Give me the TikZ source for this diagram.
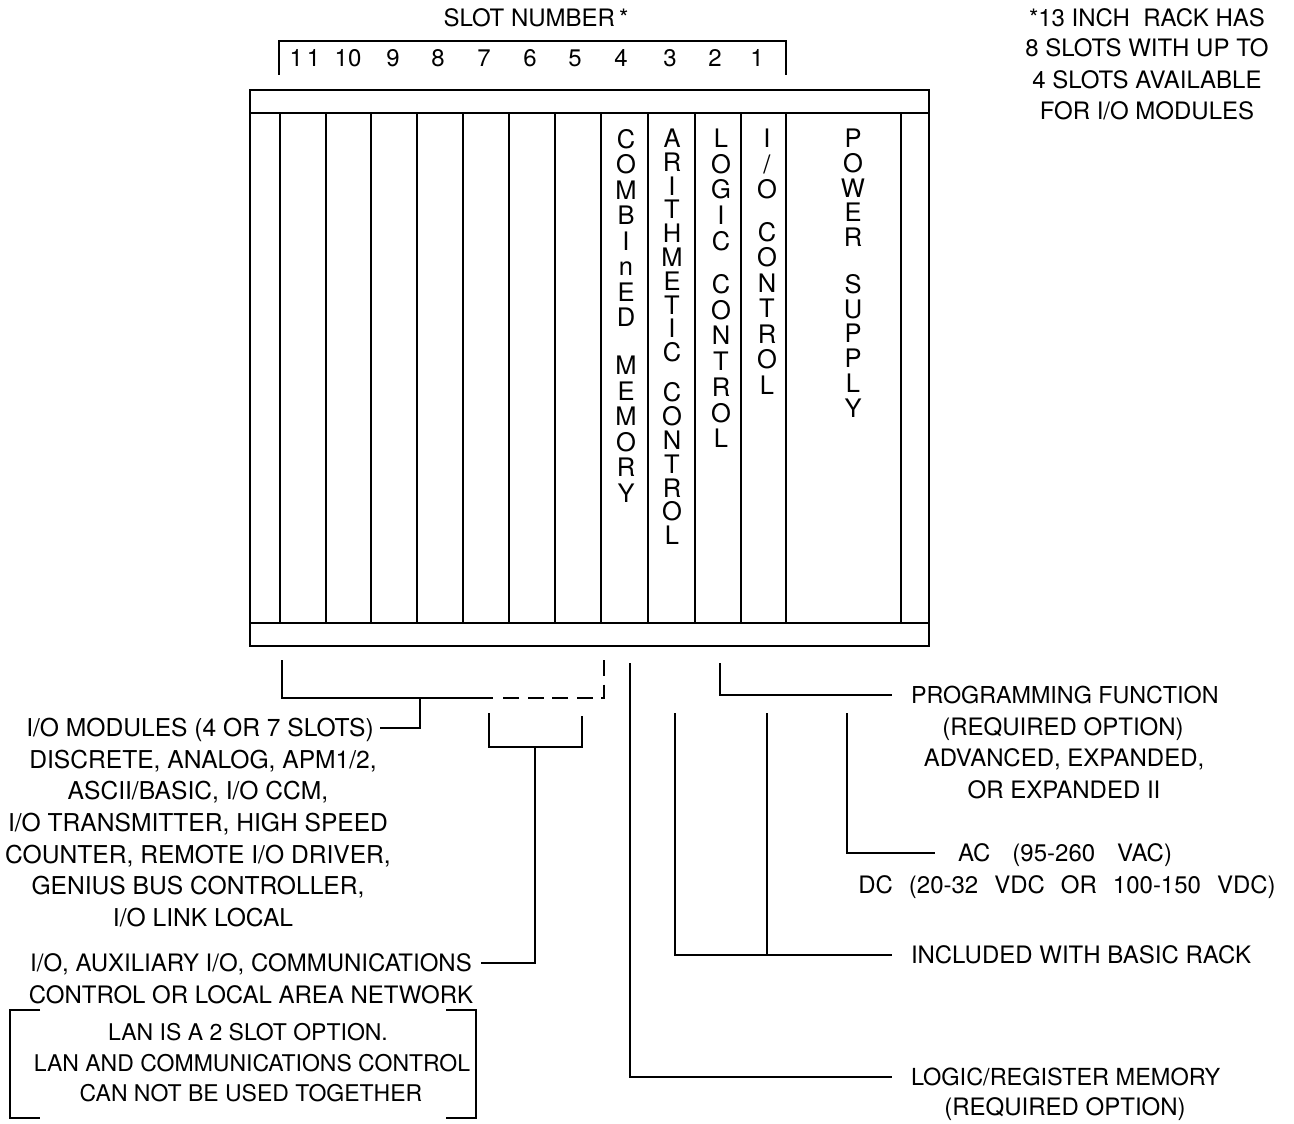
\documentclass[tikz,border=0pt]{standalone}
\usepackage{fontspec}
\setmainfont{TeX Gyre Heros}
\begin{document}
\begin{tikzpicture}[x=1pt,y=-1pt,line width=2pt,
  txt/.style={inner sep=0pt,text height=17.2pt,text depth=0pt,font=\fontsize{24}{28}\selectfont},
  txtL/.style={inner sep=0pt,text height=17.6pt,text depth=0pt,font=\fontsize{24.6}{30}\selectfont},
  txtS/.style={inner sep=0pt,text height=16.6pt,text depth=0pt,font=\fontsize{23}{28}\selectfont},
  vlet/.style={inner sep=0pt,anchor=north,align=center},
  lead/.style={line width=1.9pt},
  optdash/.style={line width=1.9pt,dash pattern=on 16pt off 8.6pt}
]
\useasboundingbox (0,0) rectangle (1294,1124);

% ---------- rack ----------
\draw (250,90) rectangle (929,646);
\draw (250,113) -- (929,113);
\draw (250,623) -- (929,623);
\foreach \x in {280,326,371,417,463,509,555,601,648,695,741,786,901}
  \draw (\x,113) -- (\x,623);

% ---------- slot numbers ----------
\node[txt] (slotnum) at (536,18) {SLOT NUMBER\,*};
\draw[lead] (279,75) -- (279,41) -- (786,41) -- (786,75);
\foreach \n/\x [count=\i] in {{1\kern4pt1}/305,10/348,9/393,8/438,7/484,6/530,5/575,4/621,3/670,2/715,1/757}
  \node[txt] (num\i) at (\x,58) {\n};

% ---------- note ----------
\node[txt] (note1) at (1147,18) {*13 INCH\ \ RACK HAS};
\node[txt] (note2) at (1147,48) {8 SLOTS WITH UP TO};
\node[txt] (note3) at (1147,80) {4 SLOTS AVAILABLE};
\node[txt] (note4) at (1147,111) {FOR I/O MODULES};

% ---------- vertical slot labels ----------
\node[vlet,font=\fontsize{25.5}{25.5}\selectfont] (vmem) at (626,128)
  {C\\O\\M\\B\\I\\n\\E\\D\\[22.6pt]M\\E\\M\\O\\R\\Y};
\node[vlet,font=\fontsize{25.5}{23.8}\selectfont] (varith) at (672,128)
  {A\\R\\I\\T\\H\\M\\E\\T\\I\\C\\[16.3pt]C\\O\\N\\T\\R\\O\\L};
\node[vlet,font=\fontsize{25.5}{25.7}\selectfont] (vlogic) at (721,128)
  {L\\O\\G\\I\\C\\[17.5pt]C\\O\\N\\T\\R\\O\\L};
\node[vlet,font=\fontsize{25.5}{25.5}\selectfont] (vio) at (767,128)
  {I\\/\\O\\[17pt]C\\O\\N\\T\\R\\O\\L};
\node[vlet,font=\fontsize{25.5}{24.8}\selectfont] (vpow) at (853,128)
  {P\\O\\W\\E\\R\\[21.7pt]S\\U\\P\\P\\L\\Y};

% ---------- I/O modules (left) ----------
\node[txtL] (io1) at (200,728) {I/O MODULES (4 OR 7 SLOTS)};
\node[txtL] (io2) at (203,760) {DISCRETE, ANALOG, APM1/2,};
\node[txtL] (io3) at (198,791) {ASCII/BASIC, I/O CCM,};
\node[txtL] (io4) at (198,823) {I/O TRANSMITTER, HIGH SPEED};
\node[txtL] (io5) at (198,855) {COUNTER, REMOTE I/O DRIVER,};
\node[txtL] (io6) at (198,886) {GENIUS BUS CONTROLLER,};
\node[txtL] (io7) at (203,918) {I/O LINK LOCAL};

\draw[lead] (282,660) -- (282,698) -- (493,698);
\draw[optdash] (604,660) -- (604,698) -- (503,698);
\draw[lead] (420,698) |- ([xshift=5pt]io1.east);

% ---------- auxiliary I/O ----------
\node[txt] (aux1) at (251,963) {I/O, AUXILIARY I/O, COMMUNICATIONS};
\node[txt] (aux2) at (251,995) {CONTROL OR LOCAL AREA NETWORK};
\node[txtS] (lan1) at (248,1032) {LAN IS A 2 SLOT OPTION.};
\node[txtS] (lan2) at (252,1063) {LAN AND COMMUNICATIONS CONTROL};
\node[txtS] (lan3) at (251,1093) {CAN NOT BE USED TOGETHER};
\draw[lead] (40,1010) -- (10,1010) -- (10,1118) -- (40,1118);
\draw[lead] (446,1010) -- (476,1010) -- (476,1118) -- (446,1118);

\draw[lead] (489,713) |- (582,747) -- (582,716);
\draw[lead] (535,747) |- ([xshift=8pt]aux1.east);

% ---------- right side ----------
\node[txt,anchor=west,font=\fontsize{23.3}{28}\selectfont] (pf1) at (910,695) {PROGRAMMING FUNCTION};
\node[txt] (pf2) at (1063,727) {(REQUIRED OPTION)};
\node[txt] (pf3) at (1064,758) {ADVANCED, EXPANDED,};
\node[txt] (pf4) at (1064,790) {OR EXPANDED II};
\draw[lead] (720,663) |- ([xshift=-18pt]pf1.west);

\node[txt,anchor=west] (ac) at (957,853) {AC\hspace{22pt}(95-260\hspace{22pt}VAC)};
\node[txt] (dc) at (1067,885) {DC\hspace{16pt}(20-32\hspace{16pt}VDC\hspace{16pt}OR\hspace{16pt}100-150\hspace{16pt}VDC)};
\draw[lead] (847,713) |- ([xshift=-22pt]ac.west);

\node[txt,anchor=west] (inc) at (910,955) {INCLUDED WITH BASIC RACK};
\draw[lead] (675,713) |- ([xshift=-18pt]inc.west);
\draw[lead] (767,713) -- (767,955);

\node[txt,anchor=west,font=\fontsize{23.5}{28}\selectfont] (lr1) at (910,1077) {LOGIC/REGISTER MEMORY};
\node[txt] (lr2) at (1065,1107) {(REQUIRED OPTION)};
\draw[lead] (630,663) |- ([xshift=-18pt]lr1.west);
\end{tikzpicture}
\end{document}
